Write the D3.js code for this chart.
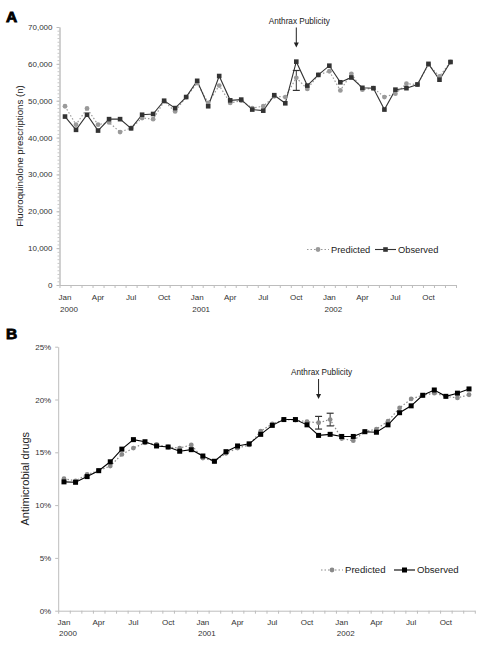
<!DOCTYPE html>
<html><head><meta charset="utf-8">
<script src="https://cdn.jsdelivr.net/npm/d3@7"></script>
<style>body{margin:0;background:#fff}svg{display:block}text{font-family:"Liberation Sans",Arial,sans-serif}</style>
</head><body>
<svg id="c" width="480" height="648"></svg>
<script>
const monthLabels = ["Jan","Apr","Jul","Oct"];
const years = ["2000","2001","2002"];
const nMonths = 36;

// Panel A: fluoroquinolone prescriptions
const aObserved = [45700,42100,46200,41900,45000,45000,42500,46200,46400,50000,48000,51000,
                   55400,48500,56700,50100,50300,47600,47300,51500,49300,60600,54100,57000,
                   59500,55000,56300,53500,53400,47600,53000,53400,54400,60000,55700,60500];
const aPredicted = [48500,43500,47900,43500,44100,41500,42600,45300,45000,49800,47100,51000,
                    54800,49400,54100,49400,50000,48000,48500,51200,51000,56200,53200,57000,
                    58000,52800,57300,53000,53400,51000,51900,54600,54400,59800,56600,60500];
const aErrIndex = [21];
const aErrLow = [52800];
const aErrHigh = [58200];
const aYTicks = [0,10000,20000,30000,40000,50000,60000,70000];

// Panel B: antimicrobial drugs share
const bObserved = [0.122,0.1216,0.127,0.1326,0.141,0.153,0.162,0.160,0.156,0.155,0.151,0.1525,
                   0.1465,0.1415,0.1506,0.156,0.158,0.167,0.1755,0.181,0.181,0.176,0.166,0.167,
                   0.165,0.165,0.1695,0.169,0.176,0.1875,0.194,0.204,0.209,0.203,0.206,0.210];
const bPredicted = [0.125,0.123,0.129,0.1326,0.137,0.148,0.154,0.159,0.1575,0.155,0.154,0.157,
                    0.1445,0.1415,0.149,0.154,0.157,0.170,0.177,0.181,0.1805,0.179,0.178,0.181,
                    0.163,0.161,0.1695,0.172,0.1795,0.192,0.2005,0.204,0.206,0.203,0.2015,0.2045];
const bErrIndex = [22,23];
const bErrLow = [0.172,0.175];
const bErrHigh = [0.184,0.187];
const bYTicks = [0,0.05,0.10,0.15,0.20,0.25];

const svg = d3.select("#c");

function panel(cfg){
  const g = svg.append("g");
  const idx = d3.range(nMonths);
  const x = d3.scaleBand().domain(idx).range([cfg.x0,cfg.x1]).paddingInner(0).paddingOuter(0);
  const xc = i => x(i) + x.bandwidth()/2;
  const xEdge = d3.scaleLinear().domain([0,nMonths]).range([cfg.x0,cfg.x1]);
  const y = d3.scaleLinear().domain(cfg.yDomain).range([cfg.yBottom,cfg.yTop]);

  // x axis with month-boundary ticks
  const xa = g.append("g").attr("transform",`translate(0,${cfg.yBottom})`)
    .call(d3.axisBottom(xEdge).tickValues(d3.range(nMonths+1)).tickSize(3).tickSizeOuter(0).tickFormat(""));
  xa.selectAll("path,line").attr("stroke","#bdbdbd");

  // y axis
  if (cfg.minor){
    const ym = g.append("g").attr("transform",`translate(${cfg.x0},0)`)
      .call(d3.axisLeft(y).tickValues(d3.range(cfg.yDomain[0],cfg.yDomain[1]+1,cfg.minor)).tickSize(2).tickSizeOuter(0).tickFormat(""));
    ym.selectAll("path,line").attr("stroke","#c8c8c8");
  }
  const ya = g.append("g").attr("transform",`translate(${cfg.x0},0)`)
    .call(d3.axisLeft(y).tickValues(cfg.yTicks).tickSize(3).tickSizeOuter(0).tickFormat(cfg.fmt).tickPadding(4));
  ya.selectAll("path,line").attr("stroke","#bdbdbd");
  ya.selectAll("text").attr("font-size",8).attr("fill","#333").attr("font-family","Liberation Sans, Arial, sans-serif");
  ya.select(".domain").attr("stroke","#bdbdbd");

  // month labels
  const labIdx = idx.filter(i => i % 3 === 0);
  g.selectAll(".ml").data(labIdx).join("text")
    .attr("x", i => xc(i)).attr("y", cfg.yBottom + 14.5)
    .attr("text-anchor","middle").attr("font-size",8).attr("fill","#333")
    .text(i => monthLabels[(i % 12)/3]);
  g.selectAll(".yl").data(years).join("text")
    .attr("x",(d,k) => xc(k*12) + 4).attr("y", cfg.yBottom + cfg.yearOff)
    .attr("text-anchor","middle").attr("font-size",8).attr("fill","#333")
    .text(d => d);

  // y title
  g.append("text").attr("transform",`translate(${cfg.titleX},${(cfg.yTop+cfg.yBottom)/2}) rotate(-90)`)
    .attr("text-anchor","middle").attr("font-size",cfg.titleSize).attr("fill","#222").text(cfg.title);

  // panel letter
  g.append("text").attr("x",6).attr("y",cfg.letterY).attr("font-size",15.5).attr("font-weight","bold")
    .attr("font-family","DejaVu Sans, sans-serif").attr("fill","#000").attr("stroke","#000").attr("stroke-width",0.9)
    .text(cfg.letter);

  // predicted line
  const line = d3.line().x((d,i)=>xc(i)).y(d=>y(d));
  g.append("path").datum(cfg.pred).attr("d",line).attr("fill","none")
    .attr("stroke",cfg.predColor).attr("stroke-width",1.2).attr("stroke-dasharray","1.5,2");
  // observed line
  g.append("path").datum(cfg.obs).attr("d",line).attr("fill","none")
    .attr("stroke",cfg.obsColor).attr("stroke-width",1.1);

  // error bars
  cfg.errIdx.forEach((ei,k) => {
    const cx = xc(ei), lo = y(cfg.errLow[k]), hi = y(cfg.errHigh[k]);
    g.append("line").attr("x1",cx).attr("x2",cx).attr("y1",lo).attr("y2",hi).attr("stroke",cfg.errColor).attr("stroke-width",1);
    [lo,hi].forEach(yy => g.append("line").attr("x1",cx-3.5).attr("x2",cx+3.5).attr("y1",yy).attr("y2",yy).attr("stroke",cfg.errColor).attr("stroke-width",1.2));
  });

  // predicted markers
  g.selectAll(".pm").data(cfg.pred).join("circle")
    .attr("cx",(d,i)=>xc(i)).attr("cy",d=>y(d)).attr("r",2.4).attr("fill",cfg.predColor);
  // observed markers
  const s = cfg.sq;
  g.selectAll(".om").data(cfg.obs).join("rect")
    .attr("x",(d,i)=>xc(i)-s/2).attr("y",d=>y(d)-s/2).attr("width",s).attr("height",s).attr("fill",cfg.obsColor);

  // annotation arrow
  const ax = xc(cfg.arrowIdx);
  g.append("text").attr("x",ax+3).attr("y",cfg.annY).attr("text-anchor","middle").attr("font-size",8.2).attr("fill","#222").text("Anthrax Publicity");
  g.append("line").attr("x1",ax).attr("x2",ax).attr("y1",cfg.annY+4).attr("y2",cfg.annY+21).attr("stroke","#222").attr("stroke-width",1);
  g.append("path").attr("d",`M${ax-2.5},${cfg.annY+19} L${ax+2.5},${cfg.annY+19} L${ax},${cfg.annY+24} Z`).attr("fill","#222");

  // legend
  const L = cfg.leg, ly = L.y;
  g.append("line").attr("x1",L.p0).attr("x2",L.p0+22).attr("y1",ly).attr("y2",ly).attr("stroke",cfg.predColor).attr("stroke-width",1.2).attr("stroke-dasharray","1.5,2");
  g.append("circle").attr("cx",L.p0+11).attr("cy",ly).attr("r",2.4).attr("fill",cfg.predColor);
  g.append("text").attr("x",L.p0+24).attr("y",ly+3.4).attr("font-size",L.fs).attr("fill","#222").text("Predicted");
  g.append("line").attr("x1",L.o0).attr("x2",L.o0+21).attr("y1",ly).attr("y2",ly).attr("stroke",cfg.obsColor).attr("stroke-width",1.1);
  g.append("rect").attr("x",L.o0+10.5-s/2).attr("y",ly-s/2).attr("width",s).attr("height",s).attr("fill",cfg.obsColor);
  g.append("text").attr("x",L.o0+23).attr("y",ly+3.4).attr("font-size",L.fs).attr("fill","#222").text("Observed");
}

panel({x0:59.5,x1:456,yTop:27,yBottom:285,yDomain:[0,70000],yTicks:aYTicks,minor:1000,
  fmt:d3.format(","),obs:aObserved,pred:aPredicted,obsColor:"#333",predColor:"#9a9a9a",errColor:"#333",
  errIdx:aErrIndex,errLow:aErrLow,errHigh:aErrHigh,sq:4.6,arrowIdx:21,annY:23.5,yearOff:26.5,
  title:"Fluoroquinolone prescriptions (n)",titleX:22.5,titleSize:9.7,letter:"A",letterY:22,
  leg:{y:249.5,p0:307,o0:375,fs:9.3}});

panel({x0:58.2,x1:474.8,yTop:346.7,yBottom:610.7,yDomain:[0,0.25],yTicks:bYTicks,minor:null,
  fmt:d3.format(".0%"),obs:bObserved,pred:bPredicted,obsColor:"#000",predColor:"#8a8a8a",errColor:"#333",
  errIdx:bErrIndex,errLow:bErrLow,errHigh:bErrHigh,sq:5,arrowIdx:22,annY:375,yearOff:25,
  title:"Antimicrobial drugs",titleX:29,titleSize:11,letter:"B",letterY:339,
  leg:{y:570,p0:321,o0:394,fs:9.6}});
</script>
</body></html>
